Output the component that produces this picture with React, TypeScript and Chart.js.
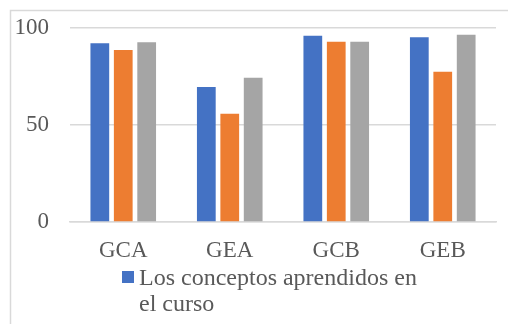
import React, { useEffect, useRef } from "react";
import { Chart, registerables } from "chart.js";
Chart.register(...registerables);

const categories = ["GCA", "GEA", "GCB", "GEB"];
const seriesNames = ["Los conceptos aprendidos en el curso", "Serie 2", "Serie 3"];
const legendLines = ["Los conceptos aprendidos en", "el curso"];
const series1 = [92.1, 69.6, 96.0, 95.2];
const series2 = [88.7, 55.8, 92.9, 77.5];
const series3 = [92.6, 74.4, 92.9, 96.5];
const yTicks = [0, 50, 100];
const colors = ["#4472C4", "#ED7D31", "#A5A5A5"];

const FONT = "'Liberation Serif', 'Times New Roman', serif";
const TEXT = "#595959";
const GRID = "#d9d9d9";

const borderPlugin = {
  id: "outerBorder",
  beforeDraw(chart: any) {
    const ctx = chart.ctx;
    ctx.save();
    ctx.fillStyle = "#ffffff";
    ctx.fillRect(0, 0, chart.width, chart.height);
    ctx.strokeStyle = GRID;
    ctx.lineWidth = 1.5;
    ctx.strokeRect(10.5, 10.5, 1000, 1000);
    ctx.restore();
  },
};

const legendPlugin = {
  id: "wrappedLegend",
  afterDraw(chart: any) {
    const ctx = chart.ctx;
    ctx.save();
    ctx.fillStyle = colors[0];
    ctx.fillRect(122, 271, 12, 12);
    ctx.fillStyle = TEXT;
    ctx.font = `24px ${FONT}`;
    ctx.textAlign = "left";
    ctx.textBaseline = "alphabetic";
    legendLines.forEach((line, i) => {
      ctx.fillText(line, 139, 285 + i * 26);
    });
    ctx.restore();
  },
};

export default function App() {
  const ref = useRef<HTMLCanvasElement>(null);
  useEffect(() => {
    const chart = new Chart(ref.current!, {
      type: "bar",
      data: {
        labels: categories,
        datasets: [series1, series2, series3].map((d, i) => ({
          label: seriesNames[i],
          data: d,
          backgroundColor: colors[i],
          borderWidth: 0,
          barPercentage: 0.8,
          categoryPercentage: 0.66,
        })),
      },
      options: {
        responsive: false,
        animation: false,
        layout: { padding: { left: 14, right: 12, top: 28, bottom: 60 } },
        plugins: {
          tooltip: { enabled: false },
          legend: { display: false },
        },
        scales: {
          x: {
            grid: { display: false, drawTicks: false },
            border: { color: GRID, width: 1.5 },
            ticks: { color: TEXT, font: { family: FONT, size: 23 }, padding: 15 },
            afterFit: (s: any) => {
              s.height = 42;
              s.paddingLeft = 0;
              s.paddingRight = 0;
            },
          },
          y: {
            min: 0,
            max: 100,
            afterBuildTicks: (s: any) => {
              s.ticks = yTicks.map((v) => ({ value: v }));
            },
            afterFit: (s: any) => {
              s.width = 56;
              s.paddingTop = 0;
              s.paddingBottom = 0;
            },
            grid: { color: GRID, lineWidth: 1.5, drawTicks: false },
            border: { display: false },
            ticks: { color: TEXT, font: { family: FONT, size: 23 }, padding: 21 },
          },
        },
      },
      plugins: [borderPlugin, legendPlugin],
    });
    return () => chart.destroy();
  }, []);
  return (
    <div style={{ position: "fixed", left: 0, top: 0, width: 508, height: 324 }}>
      <canvas ref={ref} width={508} height={324} />
    </div>
  );
}
